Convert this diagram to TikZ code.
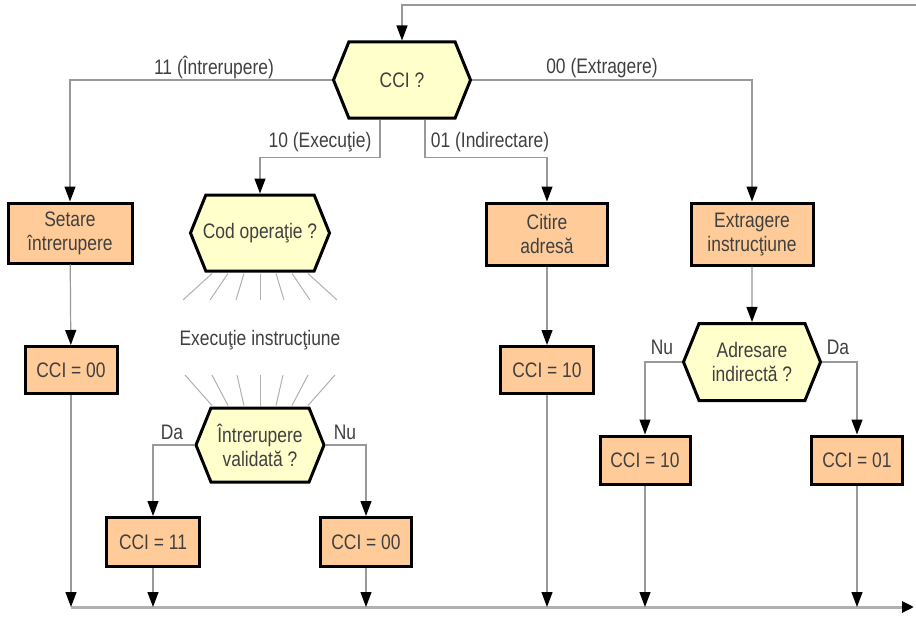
\documentclass[tikz,border=0pt]{standalone}
\usepackage{fontspec}
\setmainfont{Liberation Sans}[FakeStretch=0.83]
\usetikzlibrary{arrows.meta,shapes.symbols}
\definecolor{boxfill}{HTML}{FFCC99}
\definecolor{hexfill}{HTML}{FFFFCC}
\definecolor{linegray}{HTML}{999999}
\definecolor{raygray}{HTML}{B0B0B0}
\definecolor{txt}{HTML}{404040}
\tikzset{
  every node/.style={font=\fontsize{21}{24}\selectfont, text=txt},
  box/.style={draw=black, line width=3pt, fill=boxfill, align=center, inner sep=0pt},
  hex/.style={shape=signal, signal to=east and west, signal pointer angle=136,
    draw=black, line width=3pt, fill=hexfill, align=center, inner sep=0pt},
  conn/.style={draw=linegray, line width=1.2pt, -{Triangle[length=15pt,width=11pt,fill=black,color=black]}},
  ray/.style={draw=raygray, line width=1pt},
  lbl/.style={inner sep=0pt},
}
\begin{document}
\begin{tikzpicture}[x=1pt,y=-1pt]
\useasboundingbox (0,0) rectangle (916,618);
% nodes
\node[hex, minimum width=137pt, minimum height=76pt] (cci) at (402,80) {CCI ?};
\node[box, minimum width=124pt, minimum height=60pt] (setare) at (70,233) {Setare\\întrerupere};
\node[box, minimum width=92pt, minimum height=47pt] (c00a) at (71,370) {CCI = 00};
\node[hex, minimum width=128pt, minimum height=76pt, inner xsep=-3pt] (cod) at (260,233) {Cod operaţie ?};
\node[lbl] (exec) at (260,340) {Execuţie instrucţiune};
\node[hex, minimum width=128pt, minimum height=74pt] (intr) at (260,445) {Întrerupere\\validată ?};
\node[box, minimum width=93pt, minimum height=49pt] (c11) at (153,542) {CCI = 11};
\node[box, minimum width=91pt, minimum height=49pt] (c00b) at (366,542) {CCI = 00};
\node[box, minimum width=121pt, minimum height=62pt] (citire) at (547,234) {Citire\\adresă};
\node[box, minimum width=93pt, minimum height=47pt] (c10a) at (547,370) {CCI = 10};
\node[box, minimum width=122pt, minimum height=62pt] (extr) at (752,234) {Extragere\\instrucţiune};
\node[hex, minimum width=137pt, minimum height=77pt] (adr) at (752,362) {Adresare\\indirectă ?};
\node[box, minimum width=90pt, minimum height=48pt] (c10b) at (645,460) {CCI = 10};
\node[box, minimum width=91pt, minimum height=48pt] (c01) at (857,460) {CCI = 01};
\coordinate (topR) at (916,5);
\coordinate (bl) at (71,607);
\coordinate (br) at (914,607);
% labels
\node[lbl] (l11) at (214,68) {11 (Întrerupere)};
\node[lbl] (l00) at (602,68) {00 (Extragere)};
\node[lbl] (l10) at (320,142) {10 (Execuţie)};
\node[lbl] (l01) at (490,142) {01 (Indirectare)};
\node[lbl] (da1) at (172,432) {Da};
\node[lbl] (nu1) at (345,432) {Nu};
\node[lbl] (nu2) at (662,347) {Nu};
\node[lbl] (da2) at (838,347) {Da};
% rays
\foreach \t/\b in {-48/-77,-32/-50,-16/-24,0/0,16/24,32/50,48/77}
  \draw[ray] ([xshift=\t pt, yshift=-1pt]cod.south) -- (260+\b,300);
\foreach \t/\b in {-75/-48,-48/-32,-23/-16,0/0,23/16,48/32,75/48}
  \draw[ray] (260+\t,375) -- ([xshift=\b pt, yshift=1pt]intr.north);
% connectors
\draw[conn] (topR) -| (cci.north);
\draw[conn] (cci.west) -| (setare.north);
\draw[conn] (cci.east) -| (extr.north);
\draw[conn] ([xshift=-22pt]cci.south) -- ++(0,38) -| (cod.north);
\draw[conn] ([xshift=23pt]cci.south) -- ++(0,38) -| (citire.north);
\draw[conn] (setare) -- (c00a);
\draw[conn] (citire) -- (c10a);
\draw[conn] (extr) -- (adr);
\draw[conn] (intr.west) -| (c11.north);
\draw[conn] (intr.east) -| (c00b.north);
\draw[conn] (adr.west) -| (c10b.north);
\draw[conn] (adr.east) -| (c01.north);
\draw[draw=raygray, line width=3pt, -{Triangle[length=12pt,width=11pt,fill=black,color=black]}] (bl) -- (br);
\foreach \n in {c00a,c11,c00b,c10a,c10b,c01}
  \draw[conn] (\n.south) -- (\n.south |- bl);
\end{tikzpicture}
\end{document}
